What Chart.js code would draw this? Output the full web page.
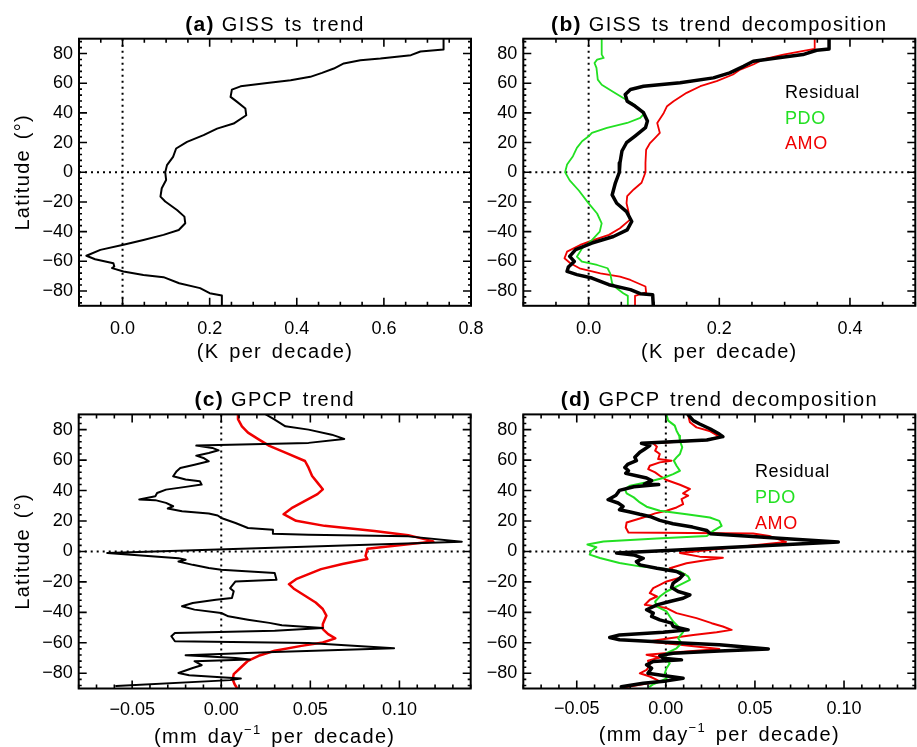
<!DOCTYPE html>
<html>
<head>
<meta charset="utf-8">
<script src="https://cdn.jsdelivr.net/npm/chart.js@4/dist/chart.umd.min.js"></script>
<style>
  body { margin: 0; background: #fff; }
  #wrap { position: relative; width: 917px; height: 747px; overflow: hidden; }
  canvas { position: absolute; }
</style>
</head>
<body>
<div id="wrap">
  <canvas id="chartA" width="495" height="372" style="left:0;top:0"></canvas>
  <canvas id="chartB" width="457" height="372" style="left:460px;top:0"></canvas>
  <canvas id="chartC" width="495" height="375" style="left:0;top:372px"></canvas>
  <canvas id="chartD" width="457" height="375" style="left:460px;top:372px"></canvas>
</div>
<script>
// tick labels
const latTicks = [-80, -60, -40, -20, 0, 20, 40, 60, 80]
const tempTicksA = [0.0, 0.2, 0.4, 0.6, 0.8]
const tempTicksB = [0.0, 0.2, 0.4]
const precipTicks = [-0.05, 0.0, 0.05, 0.10]

// (a) GISS ts trend
const latA = [90, 82.7, 81.4, 78.9, 76.6, 75.5, 73.3, 69.9, 67, 64.3, 62, 60.2, 57.9, 55.7, 50.8, 47.4, 42.9, 38.4, 32.8, 29.4,
  25, 20.5, 16, 10.4, 4.8, 0, -5.2, -10.8, -16.4, -19.7, -25.4, -29.9, -34.4, -38.9, -42.2, -45.6, -48.9, -52.3, -56.3, -58.6,
  -61.3, -63.5, -64.6, -66.9, -69.2, -70.7, -74.8, -78.1, -81.5, -83.1, -90]
const gissTrend = [0.737, 0.737, 0.684, 0.662, 0.592, 0.546, 0.508, 0.485, 0.458, 0.431, 0.386, 0.332, 0.271, 0.251, 0.248, 0.263, 0.282, 0.284, 0.255, 0.217,
  0.186, 0.148, 0.123, 0.116, 0.102, 0.098, 0.100, 0.090, 0.087, 0.098, 0.125, 0.142, 0.144, 0.129, 0.094, 0.048, 0.002, -0.051, -0.083, -0.063,
  -0.021, -0.019, -0.024, 0.002, 0.048, 0.094, 0.130, 0.178, 0.200, 0.228, 0.228]

// (b) GISS ts trend decomposition
const latBResid = [90, 83.1, 82.2, 79.3, 77, 74.8, 71.4, 67, 63.6, 60.3, 58, 55.8, 52.4, 47.9, 44.6, 40.1, 34.5, 30, 24.4, 19.9, 14.3, 6.4,
  0, -7.1, -15.3, -20.9, -26.5, -33.2, -38.8, -43.3, -47.7, -52.2, -56.7, -60.1, -63.9, -66.8, -69, -71.3, -75.8, -79.1, -81.8, -82.5, -90]
const gissResid = [0.368, 0.368, 0.349, 0.328, 0.288, 0.252, 0.237, 0.216, 0.191, 0.140, 0.084, 0.064, 0.056, 0.059, 0.071, 0.084, 0.090, 0.087, 0.071, 0.058, 0.051, 0.048,
  0.047, 0.041, 0.036, 0.043, 0.058, 0.066, 0.059, 0.038, 0.005, -0.020, -0.029, -0.022, -0.031, -0.033, -0.018, 0.005, 0.031, 0.064, 0.079, 0.098, 0.099]
const latBPdo = [90, 79.3, 77, 75.9, 73.6, 70.3, 62.4, 59, 54.6, 50, 46.7, 43.3, 39.5, 36.6, 33.2, 29.9, 26.5, 24.2, 20.9, 16.4, 10.8, 5.2,
  0, -5.5, -12.3, -21, -27.8, -34.4, -40, -45.7, -51.3, -56.9, -60.3, -62.5, -64.7, -68.1, -74.8, -78.2, -81.5, -83.3, -90]
const gissPdo = [0.020, 0.020, 0.023, 0.013, 0.009, 0.012, 0.014, 0.020, 0.036, 0.053, 0.066, 0.076, 0.085, 0.079, 0.059, 0.028, 0.005, 0.000, -0.010, -0.018, -0.024, -0.033,
  -0.036, -0.029, -0.015, 0.000, 0.013, 0.020, 0.017, 0.005, -0.010, -0.018, -0.010, 0.013, 0.029, 0.033, 0.036, 0.043, 0.053, 0.060, 0.060]
const latBAmo = [90, 83.1, 82.2, 79.3, 76, 72.6, 69.2, 65.9, 61.4, 58, 53.5, 47.9, 44.5, 40, 33.2, 26.5, 24.2, 19.7, 15.2, 6.4,
  0, -7.1, -11.6, -16.1, -20.9, -26.5, -32.1, -37.7, -42.2, -45.6, -49, -53.5, -58, -61.3, -64.7, -68.1, -70.3, -72.6, -77, -81, -83.3, -90]
const gissAmo = [0.346, 0.346, 0.333, 0.298, 0.267, 0.252, 0.232, 0.221, 0.196, 0.171, 0.150, 0.130, 0.120, 0.115, 0.105, 0.109, 0.104, 0.094, 0.088, 0.087,
  0.087, 0.081, 0.069, 0.059, 0.058, 0.061, 0.063, 0.048, 0.031, 0.008, -0.013, -0.033, -0.037, -0.028, -0.014, 0.018, 0.048, 0.064, 0.087, 0.088, 0.071, 0.071]

// (c) GPCP trend
const latC = [90, 86.5, 82.2, 80, 76.7, 73.9, 71.3, 69.5, 68, 66.4, 64.7, 62.9, 61.4, 59.2, 57, 54.8, 52.7, 49.4, 47.2, 46.1,
  43.9, 42.4, 40.6, 38.4, 36.3, 34.1, 33.7, 31.9, 29.7, 28.2, 26.4, 24.9, 23.6, 22, 18.7, 15.4, 14.3, 11.7, 11, 9.9,
  6.4, -1, -4.4, -5.5, -6.6, -8.8, -10.9, -12, -14.2, -18.6, -19.7, -24.1, -26.2, -30.6, -31.7, -33.9, -36, -38.2, -40.4, -42.6,
  -44.8, -46.9, -48.5, -50.2, -52, -53.5, -55.7, -59, -60.1, -63.6, -66, -68.2, -69.9, -71, -72.1, -74.7, -76.5, -79.8, -81.3, -83.4,
  -84.5, -88.3]
const gpcpTrend = [0.025, 0.030, 0.036, 0.049, 0.062, 0.069, 0.049, -0.014, -0.005, -0.0015, -0.007, -0.014, -0.010, -0.007, -0.015, -0.023, -0.025, -0.027, -0.020, -0.012,
  -0.011, -0.020, -0.031, -0.036, -0.037, -0.046, -0.037, -0.031, -0.027, -0.030, -0.022, -0.007, -0.002, 0.000, 0.008, 0.015, 0.029, 0.029, 0.049, 0.105,
  0.135, -0.064, -0.024, -0.020, -0.024, -0.016, -0.007, 0.000, 0.030, 0.031, 0.008, 0.005, 0.007, 0.006, -0.003, -0.016, -0.022, -0.015, 0.000, 0.004,
  0.015, 0.027, 0.034, 0.057, 0.030, -0.026, -0.028, -0.026, 0.049, 0.097, 0.030, -0.020, 0.008, 0.016, -0.015, -0.011, -0.016, -0.024, -0.018, 0.011,
  0.005, -0.059]
const latCRed = [90, 86.9, 82.2, 78, 73.6, 69.3, 64.9, 59.4, 55, 49.6, 45.2, 40.8, 37.6, 33.2, 28.8, 24.5, 20.1, 16.8, 13.5, 10.7,
  6.6, 1.7, -2.9, -5, -8.3, -11.6, -14.9, -18.2, -21.5, -24.7, -29.1, -33.5, -37.8, -42.2, -47.7, -51, -54.3, -57.1, -59.8, -62,
  -65.2, -68.5, -71.8, -76.2, -80.6, -83.9, -87.2, -90]
const gpcpRed = [0.0094, 0.0094, 0.0116, 0.015, 0.021, 0.027, 0.036, 0.047, 0.049, 0.051, 0.054, 0.057, 0.054, 0.047, 0.040, 0.035, 0.042, 0.058, 0.086, 0.105,
  0.119, 0.082, 0.081, 0.082, 0.068, 0.056, 0.049, 0.042, 0.038, 0.041, 0.047, 0.053, 0.057, 0.059, 0.057, 0.057, 0.060, 0.064, 0.057, 0.045,
  0.030, 0.021, 0.015, 0.011, 0.007, 0.0064, 0.0075, 0.009]

// (d) GPCP trend decomposition
const latDResid = [89.8, 85.9, 83.7, 80.4, 77.1, 75.4, 73.2, 71, 69.5, 67.3, 65.1, 61.8, 59.6, 57.4, 55.2, 53, 51.3, 49.7, 48.2, 46.5,
  44.2, 43.9, 42.5, 40.1, 36.9, 34, 31.8, 29.6, 27.4, 25.9, 24.4, 23, 20.4, 18.2, 16, 13.8, 11.6, 8.3, 6.2, -1,
  -2.3, -4.5, -6.7, -8.8, -11, -13.2, -15.4, -17.6, -20.8, -23.7, -26.3, -28.5, -30.7, -32.9, -35.1, -38.3, -40.5, -42.7, -44.9, -47.1,
  -49.3, -51.5, -53, -54.8, -56.5, -58, -59.6, -61.3, -64, -65.3, -66.8, -68.4, -70.1, -71.2, -72.3, -74.5, -76.7, -80, -81.5, -83.3,
  -85, -86.6, -88.8]
const gpcpResid = [0.0125, 0.0154, 0.019, 0.025, 0.030, 0.032, 0.023, -0.0137, -0.009, -0.0118, -0.0146, -0.0174, -0.0165, -0.0212, -0.023, -0.021, -0.0225, -0.0165, -0.0108, -0.008,
  -0.012, -0.004, -0.018, -0.026, -0.028, -0.0324, -0.0268, -0.024, -0.026, -0.020, -0.0146, -0.009, -0.0034, 0.004, 0.015, 0.023, 0.025, 0.068, 0.0968, -0.0277,
  -0.018, -0.0127, -0.0165, -0.0146, -0.005, 0.006, 0.0097, 0.0079, 0.0041, 0.0032, 0.0069, 0.0135, 0.0097, 0.0022, -0.005, -0.0108, -0.0071, -0.008, -0.0034, 0.0032,
  0.0041, 0.0125, -0.0015, -0.026, -0.0315, -0.026, 0.0004, 0.030, 0.0575, 0.030, 0.004, -0.0034, -0.0015, 0.0088, -0.0071, -0.0108, -0.008, -0.010, -0.0015, 0.0097,
  0.0004, -0.0127, -0.025]
const latDPdo = [89.8, 85.9, 82.6, 79.3, 76, 72.7, 68.4, 64, 61.8, 59.6, 56.3, 53, 50.8, 48.2, 45.4, 43.2, 41, 38.1, 35.5, 32.2,
  29.4, 26.7, 24.5, 22.3, 20.1, 16.8, 13.5, 10.2, 8.5, 6.5, 4.5, 2.8, 0.1, -2.1, -4.3, -7.6, -9.8, -11.4, -13.1, -16.4,
  -18.6, -21.9, -26.3, -29.6, -32.9, -36.2, -39.4, -42.7, -46, -50.4, -53, -57, -60.3, -63.6, -66.8, -70.1, -73.4, -76.7, -80, -83.3,
  -85.5, -87.2, -88.8]
const gpcpPdo = [0.0004, 0.0013, 0.005, 0.006, 0.0075, 0.0079, 0.0092, 0.0079, 0.006, 0.0045, 0.006, 0.0079, 0.0041, -0.0015, -0.0108, -0.020, -0.023, -0.022, -0.018, -0.0146,
  -0.0108, -0.0034, 0.0116, 0.0247, 0.030, 0.0313, 0.0266, 0.023, -0.005, -0.035, -0.044, -0.039, -0.042, -0.0427, -0.037, -0.026, -0.0146, -0.0015, 0.0079, 0.0125,
  0.0135, 0.0079, 0.0004, -0.0034, -0.006, -0.005, 0.0004, 0.0022, 0.0041, 0.0079, 0.0097, 0.0069, 0.0088, 0.006, 0.0004, -0.0015, 0.0022, 0.0004, -0.0006, 0.0004,
  -0.0034, -0.0071, -0.009]
const latDAmo = [89.8, 84.8, 81.5, 78.9, 75.4, 73.2, 71, 68.8, 66.2, 64, 60.7, 59.6, 58.5, 56.3, 54.1, 51.9, 49.7, 46.9, 43.8, 41,
  38.1, 36.6, 34.4, 31.1, 28.9, 26.7, 25, 22.3, 19, 15.7, 12.4, 11.8, 10.2, 6.2, -1, -3.4, -4.1, -5.6, -7.8, -11,
  -13.2, -14.9, -17.6, -19.7, -21.9, -24.1, -27.4, -29.6, -31.7, -35, -37.2, -40.5, -43.8, -47.1, -49.3, -51.5, -53, -54.8, -57, -59.1,
  -61.3, -64, -65.7, -67.9, -69.7, -71.8, -74.5, -77.8, -80, -82.1, -84.3, -85.4, -87.6, -89.4]
const gpcpAmo = [0.0125, 0.0135, 0.0172, 0.025, 0.030, 0.023, -0.0071, -0.005, -0.006, -0.0034, -0.0043, 0.0032, -0.0034, -0.009, -0.0099, -0.006, -0.0034, 0.0004, 0.0079, 0.0135,
  0.0097, 0.0125, 0.0088, 0.0097, 0.006, 0.0004, -0.006, -0.0127, -0.022, -0.0225, -0.021, 0.049, 0.058, 0.0674, 0.0079, 0.019, 0.032, 0.023, 0.0116, 0.0022,
  0.006, 0.0107, 0.0069, 0.0004, -0.0034, -0.0071, -0.009, -0.005, -0.009, -0.0118, 0.0004, 0.006, 0.0172, 0.0257, 0.032, 0.0369, 0.0285, 0.0154, 0.0022, -0.010,
  0.0079, 0.030, 0.0116, -0.0108, -0.0034, -0.010, -0.009, -0.0108, -0.0146, -0.009, -0.005, -0.0034, -0.0146, -0.0236]

const FONT = '"Liberation Sans", Arial, Helvetica, sans-serif'
const GREEN = "#22e022"
const RED = "#f00000"
Chart.defaults.font.family = FONT
Chart.defaults.color = "#000"

function series(label, lats, vals, color, width) {
  return {
    label: label,
    data: lats.map((lat, i) => ({ x: vals[i], y: lat })),
    showLine: true,
    borderColor: color,
    backgroundColor: color,
    borderWidth: width,
    pointRadius: 0,
    tension: 0,
    clip: 0,
    borderJoinStyle: "round",
    borderCapStyle: "round",
  }
}

function minus(s) {
  return s.replace("-", "\u2212")
}

// tick positions (majors from the label arrays, minors every `step`)
function tickList(scale, majors, step) {
  const out = []
  const start = majors[0]
  const kMin = Math.ceil((scale.min - start) / step - 1e-6)
  const kMax = Math.floor((scale.max - start) / step + 1e-6)
  for (let k = kMin; k <= kMax; k++) {
    const v = start + k * step
    out.push({ v: v, major: majors.some((m) => Math.abs(m - v) < step / 10) })
  }
  return out
}

function drawParts(ctx, parts, cx, baseline) {
  let w = 0
  parts.forEach((p) => {
    ctx.font = p.font
    p.w = ctx.measureText(p.text).width + (p.gap || 0)
    w += p.w
  })
  let xx = cx - w / 2
  parts.forEach((p) => {
    ctx.font = p.font
    ctx.fillText(p.text, xx, baseline + (p.dy || 0))
    xx += p.w
  })
}

const deco = {
  id: "deco",
  beforeDatasetsDraw(chart) {
    const { ctx, chartArea: a, scales } = chart
    const x0 = scales.x.getPixelForValue(0)
    const y0 = scales.y.getPixelForValue(0)
    ctx.save()
    ctx.strokeStyle = "#000"
    ctx.lineWidth = 2
    ctx.setLineDash([2, 4])
    ctx.beginPath()
    ctx.moveTo(x0, a.top)
    ctx.lineTo(x0, a.bottom)
    ctx.moveTo(a.left, y0)
    ctx.lineTo(a.right, y0)
    ctx.stroke()
    ctx.restore()
  },
  afterDraw(chart, args, o) {
    const { ctx, chartArea: a, scales } = chart
    const x = scales.x
    const y = scales.y
    ctx.save()
    ctx.strokeStyle = "#000"
    ctx.lineWidth = 2
    ctx.strokeRect(a.left, a.top, a.right - a.left, a.bottom - a.top)

    // inward ticks on all four sides
    ctx.lineWidth = 1.6
    ctx.beginPath()
    tickList(x, o.xTicks, o.xMinor).forEach((t) => {
      const px = x.getPixelForValue(t.v)
      const len = t.major ? 8 : 4
      ctx.moveTo(px, a.bottom)
      ctx.lineTo(px, a.bottom - len)
      ctx.moveTo(px, a.top)
      ctx.lineTo(px, a.top + len)
    })
    tickList(y, latTicks, 4).forEach((t) => {
      const py = y.getPixelForValue(t.v)
      const len = t.major ? 8 : 3
      ctx.moveTo(a.left, py)
      ctx.lineTo(a.left + len, py)
      ctx.moveTo(a.right, py)
      ctx.lineTo(a.right - len, py)
    })
    ctx.stroke()

    ctx.fillStyle = "#000"
    ctx.textBaseline = "alphabetic"
    ctx.textAlign = "left"
    ctx.letterSpacing = "1.3px"
    ctx.wordSpacing = "3px"
    const cx = (a.left + a.right) / 2

    // panel title
    drawParts(ctx, [
      { text: o.tag, font: "bold 21px " + FONT, gap: 7 },
      { text: o.title, font: "20px " + FONT },
    ], cx, o.titleY)

    // x axis title
    const xParts = o.xTitle.map((p) =>
      p.sup ? { text: p.text, font: "13px " + FONT, dy: -9 } : { text: p.text, font: "20px " + FONT })
    drawParts(ctx, xParts, cx, o.xTitleY)

    // y axis title
    if (o.yTitle) {
      ctx.save()
      ctx.translate(28.5, (a.top + a.bottom) / 2)
      ctx.rotate(-Math.PI / 2)
      drawParts(ctx, [{ text: "Latitude (\u00b0)", font: "20px " + FONT }], 0, 0)
      ctx.restore()
    }

    // text legend
    if (o.legend) {
      ctx.letterSpacing = "0.6px"
      ctx.font = "18px " + FONT
      chart.data.datasets.forEach((ds, i) => {
        ctx.fillStyle = ds.borderColor
        ctx.fillText(ds.label, a.left + o.legend.dx, a.top + o.legend.dy + i * o.legend.step)
      })
    }
    ctx.restore()
  },
}

function makeChart(id, p) {
  return new Chart(document.getElementById(id), {
    type: "scatter",
    data: { datasets: p.datasets },
    plugins: [deco],
    options: {
      responsive: false,
      animation: false,
      events: [],
      layout: { padding: { top: p.padTop, right: p.padRight, left: 0, bottom: 0 } },
      plugins: {
        legend: { display: false },
        tooltip: { enabled: false },
        deco: p.deco,
      },
      scales: {
        x: {
          type: "linear",
          min: p.xMin,
          max: p.xMax,
          grid: { display: false, drawTicks: false },
          border: { display: false },
          afterBuildTicks: (s) => {
            s.ticks = p.deco.xTicks.map((v) => ({ value: v }))
          },
          ticks: {
            autoSkip: false,
            maxRotation: 0,
            padding: p.xTickPad,
            font: { size: 18 },
            color: "#000",
            callback: (v) => minus(Number(v).toFixed(p.xDec)),
          },
          afterFit: (s) => {
            s.height = p.xHeight
            s.paddingLeft = 0
            s.paddingRight = 0
          },
        },
        y: {
          type: "linear",
          min: -90,
          max: 90,
          grid: { display: false, drawTicks: false },
          border: { display: false },
          afterBuildTicks: (s) => {
            s.ticks = latTicks.map((v) => ({ value: v }))
          },
          ticks: {
            autoSkip: false,
            padding: 6,
            font: { size: 18 },
            color: "#000",
            callback: (v) => minus(String(v)),
          },
          afterFit: (s) => {
            s.width = p.yWidth
            s.paddingTop = 0
            s.paddingBottom = 0
          },
        },
      },
    },
  })
}

const kTitle = [{ text: "(K per decade)" }]
const mmTitle = [{ text: "(mm day" }, { text: "\u22121", sup: true }, { text: " per decade)" }]

makeChart("chartA", {
  xMin: -0.1, xMax: 0.8, xDec: 1, xTickPad: 12,
  yWidth: 79, xHeight: 66.2, padTop: 38.7, padRight: 24,
  datasets: [series("GISS ts trend", latA, gissTrend, "#000", 2)],
  deco: { tag: "(a)", title: "GISS ts trend", titleY: 31, xTicks: tempTicksA, xMinor: 0.05, xTitle: kTitle, xTitleY: 358, yTitle: true },
})

makeChart("chartB", {
  xMin: -0.1, xMax: 0.5, xDec: 1, xTickPad: 12,
  yWidth: 63.3, xHeight: 66.2, padTop: 38.7, padRight: 1.7,
  datasets: [
    series("Residual", latBResid, gissResid, "#000", 3.5),
    series("PDO", latBPdo, gissPdo, GREEN, 1.8),
    series("AMO", latBAmo, gissAmo, RED, 1.8),
  ],
  deco: { tag: "(b)", title: "GISS ts trend decomposition", titleY: 31, xTicks: tempTicksB, xMinor: 0.05, xTitle: kTitle, xTitleY: 358,
    legend: { dx: 261.7, dy: 59.6, step: 25.3 } },
})

makeChart("chartC", {
  xMin: -0.08, xMax: 0.14, xDec: 2, xTickPad: 11,
  yWidth: 78.7, xHeight: 58.5, padTop: 42.4, padRight: 24.3,
  datasets: [
    series("GPCP trend", latC, gpcpTrend, "#000", 2),
    series("", latCRed, gpcpRed, RED, 2.5),
  ],
  deco: { tag: "(c)", title: "GPCP trend", titleY: 34, xTicks: precipTicks, xMinor: 0.01, xTitle: mmTitle, xTitleY: 371, yTitle: true },
})

makeChart("chartD", {
  xMin: -0.08, xMax: 0.14, xDec: 2, xTickPad: 10,
  yWidth: 63.3, xHeight: 58.5, padTop: 42.4, padRight: 1.7,
  datasets: [
    series("Residual", latDResid, gpcpResid, "#000", 3.5),
    series("PDO", latDPdo, gpcpPdo, GREEN, 2),
    series("AMO", latDAmo, gpcpAmo, RED, 2),
  ],
  deco: { tag: "(d)", title: "GPCP trend decomposition", titleY: 34, xTicks: precipTicks, xMinor: 0.01, xTitle: mmTitle, xTitleY: 369,
    legend: { dx: 231.7, dy: 62.3, step: 26 } },
})
</script>
</body>
</html>
